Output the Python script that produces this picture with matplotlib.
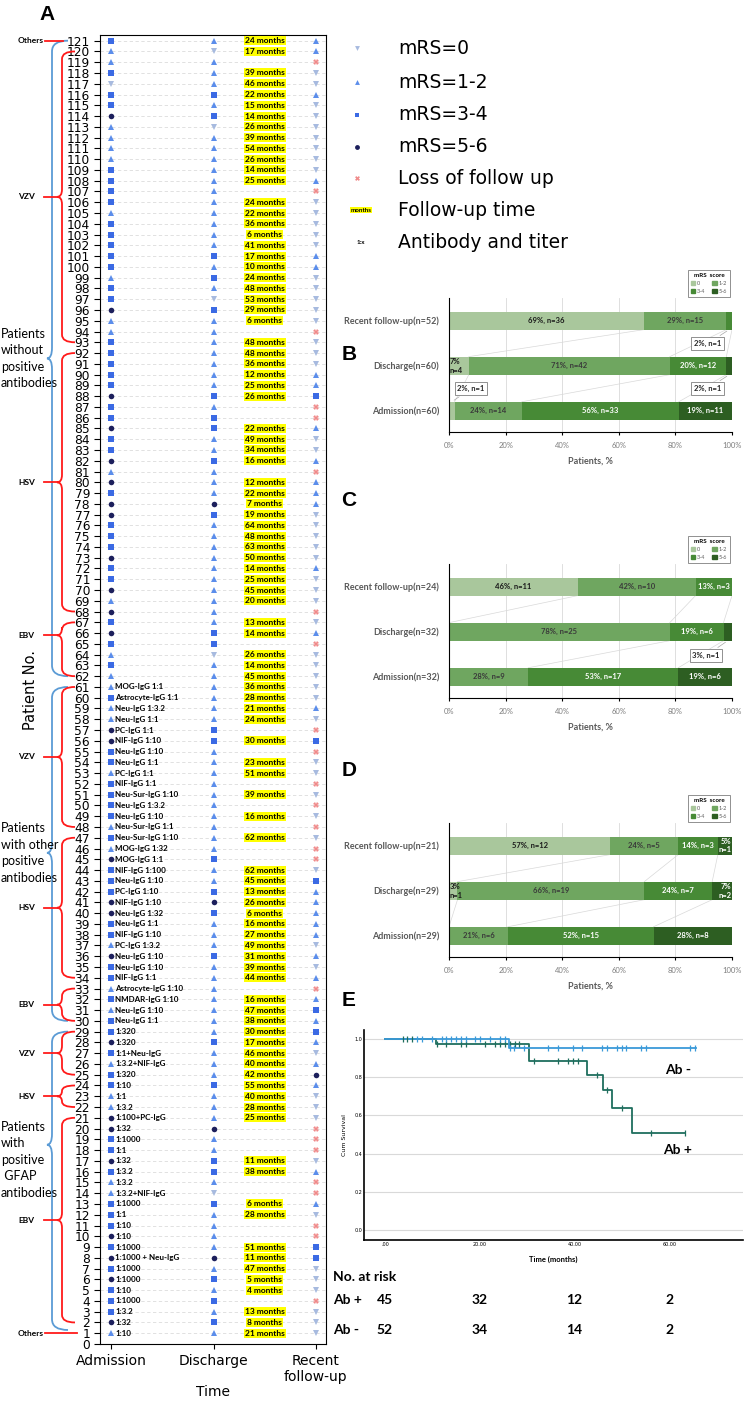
import numpy as np
import matplotlib
matplotlib.use('Agg')
import matplotlib.pyplot as plt
import matplotlib.transforms as mtransforms
from matplotlib.path import Path
from matplotlib.patches import PathPatch, Patch

W, H = 747, 1401

# ---------------- panel A: one value per patient, patient 1 .. 121 ----------------
# mRS code: 0 = mRS 0, 1 = mRS 1-2, 3 = mRS 3-4, 5 = mRS 5-6, 9 = loss of follow up
admission = [1, 5, 3, 3, 3, 5, 3, 5, 3, 5,
             3, 3, 3, 1, 1, 3, 5, 3, 3, 5,
             5, 1, 1, 3, 3, 1, 3, 5, 3, 3,
             1, 3, 1, 3, 3, 5, 1, 3, 3, 5,
             5, 3, 3, 3, 5, 1, 3, 1, 3, 3,
             3, 3, 1, 3, 3, 5, 5, 1, 1, 3,
             1, 1, 3, 1, 3, 5, 3, 5, 1, 5,
             3, 3, 5, 3, 3, 3, 5, 5, 3, 5,
             1, 5, 3, 3, 5, 3, 3, 5, 3, 3,
             3, 3, 3, 1, 1, 5, 3, 3, 1, 3,
             3, 3, 3, 3, 1, 3, 3, 3, 3, 1,
             1, 1, 1, 5, 3, 3, 0, 3, 1, 1,
             3]
discharge = [1, 3, 1, 3, 1, 3, 1, 5, 1, 1,
             1, 1, 3, 0, 1, 3, 3, 1, 1, 5,
             1, 1, 1, 3, 1, 1, 1, 3, 1, 1,
             1, 1, 1, 1, 1, 3, 1, 1, 1, 3,
             5, 3, 1, 1, 3, 1, 1, 1, 1, 1,
             1, 1, 1, 1, 1, 3, 3, 1, 1, 1,
             1, 1, 1, 0, 3, 3, 1, 1, 1, 1,
             1, 1, 1, 1, 1, 1, 3, 5, 1, 1,
             1, 3, 1, 1, 3, 3, 1, 3, 1, 1,
             1, 1, 1, 1, 1, 3, 0, 1, 3, 1,
             3, 1, 1, 1, 1, 1, 1, 1, 1, 1,
             1, 1, 0, 3, 1, 3, 1, 1, 1, 0,
             1]
recent = [0, 0, 0, 9, 0, 0, 0, 3, 3, 9,
          9, 0, 1, 9, 9, 1, 0, 9, 9, 9,
          0, 0, 0, 1, 5, 1, 0, 1, 3, 1,
          3, 1, 9, 1, 0, 1, 0, 1, 1, 1,
          1, 1, 3, 0, 9, 9, 0, 9, 0, 9,
          0, 9, 0, 0, 9, 3, 9, 0, 1, 0,
          0, 0, 0, 0, 9, 1, 0, 9, 0, 0,
          0, 1, 0, 0, 0, 0, 0, 1, 1, 1,
          9, 1, 0, 0, 1, 9, 9, 3, 1, 1,
          0, 0, 0, 9, 0, 0, 0, 0, 0, 1,
          1, 0, 0, 0, 0, 0, 9, 1, 0, 0,
          0, 0, 0, 0, 0, 1, 0, 0, 9, 1,
          1]
followup_months = [21, 8, 13, None, 4, 5, 47, 11, 51, None,
                   None, 28, 6, None, None, 38, 11, None, None, None,
                   25, 28, 40, 55, 42, 40, 46, 17, 30, 38,
                   47, 16, None, 44, 39, 31, 49, 27, 16, 6,
                   26, 13, 45, 62, None, None, 62, None, 16, None,
                   39, None, 51, 23, None, 30, None, 24, 21, 28,
                   36, 45, 14, 26, None, 14, 13, None, 20, 45,
                   25, 14, 50, 63, 48, 64, 19, 7, 22, 12,
                   None, 16, 34, 49, 22, None, None, 26, 25, 12,
                   36, 48, 48, None, 6, 29, 53, 48, 24, 10,
                   17, 41, 6, 36, 22, 24, None, 25, 14, 26,
                   54, 39, 26, 14, 15, 22, 46, 39, None, 17,
                   24]
antibody_titer = ['1:10', '1:32', '1:3.2', '1:1000', '1:10', '1:1000', '1:1000',
                  '1:1000 + Neu-IgG', '1:1000', '1:10', '1:10', '1:1', '1:1000',
                  '1:3.2+NIF-IgG', '1:3.2', '1:3.2', '1:32', '1:1', '1:1000', '1:32',
                  '1:100+PC-IgG', '1:3.2', '1:1', '1:10', '1:320', '1:3.2+NIF-IgG',
                  '1:1+Neu-IgG', '1:320', '1:320', 'Neu-IgG 1:1', 'Neu-IgG 1:10',
                  'NMDAR-IgG 1:10', 'Astrocyte-IgG 1:10', 'NIF-IgG 1:1', 'Neu-IgG 1:10',
                  'Neu-IgG 1:10', 'PC-IgG 1:3.2', 'NIF-IgG 1:10', 'Neu-IgG 1:1',
                  'Neu-IgG 1:32', 'NIF-IgG 1:10', 'PC-IgG 1:10', 'Neu-IgG 1:10',
                  'NIF-IgG 1:100', 'MOG-IgG 1:1', 'MOG-IgG 1:32', 'Neu-Sur-IgG 1:10',
                  'Neu-Sur-IgG 1:1', 'Neu-IgG 1:10', 'Neu-IgG 1:3.2', 'Neu-Sur-IgG 1:10',
                  'NIF-IgG 1:1', 'PC-IgG 1:1', 'Neu-IgG 1:1', 'Neu-IgG 1:10',
                  'NIF-IgG 1:10', 'PC-IgG 1:1', 'Neu-IgG 1:1', 'Neu-IgG 1:3.2',
                  'Astrocyte-IgG 1:1', 'MOG-IgG 1:1']
time_points = ['Admission', 'Discharge', 'Recent\nfollow-up']

# virus brackets: (first row, last row, tip row, name)
virus_groups = [(120, 93, 106.5, 'VZV'), (92, 68, 80, 'HSV'), (67, 62, 65.8, 'EBV'),
                (61, 48, 54.5, 'VZV'), (47, 34, 40.5, 'HSV'), (33, 30, 31.5, 'EBV'),
                (29, 25, 27, 'VZV'), (24, 22, 23, 'HSV'), (21, 2, 11.5, 'EBV')]
others_rows = [121, 1]
# antibody brackets: (first row, last row, tip row, text row, text)
antibody_groups = [(121, 62, 91.5, 91.5, 'Patients\nwithout\npositive\nantibodies'),
                   (61, 30, 45.6, 45.6, 'Patients\nwith other\npositive\nantibodies'),
                   (29, 1.3, 18.5, 17.1, 'Patients\nwith\npositive\n GFAP\nantibodies')]

# ---------------- panels B-D: mRS distribution (0, 1-2, 3-4, 5-6) ----------------
bar_rows_b = ['Admission(n=60)', 'Discharge(n=60)', 'Recent follow-up(n=52)']
pct_b = [[2, 24, 56, 19], [7, 71, 20, 2], [69, 29, 2, 0]]
n_b = [[1, 14, 33, 11], [4, 42, 12, 1], [36, 15, 1, 0]]
bar_rows_c = ['Admission(n=32)', 'Discharge(n=32)', 'Recent follow-up(n=24)']
pct_c = [[0, 28, 53, 19], [0, 78, 19, 3], [46, 42, 13, 0]]
n_c = [[0, 9, 17, 6], [0, 25, 6, 1], [11, 10, 3, 0]]
bar_rows_d = ['Admission(n=29)', 'Discharge(n=29)', 'Recent follow-up(n=21)']
pct_d = [[0, 21, 52, 28], [3, 66, 24, 7], [57, 24, 14, 5]]
n_d = [[0, 6, 15, 8], [1, 19, 7, 2], [12, 5, 3, 1]]
mrs_groups = ['0', '1-2', '3-4', '5-6']

# ---------------- panel E: Kaplan-Meier ----------------
abpos_t = [0, 10.8, 30.4, 42.7, 45.9, 47.9, 52.0, 63.3]
abpos_s = [1.0, 0.976, 0.885, 0.81, 0.731, 0.639, 0.509, 0.509]
abpos_cens = [3.75, 4.7, 5.8, 10.9, 12.9, 16.0, 17.0, 21.1, 23.2, 24.3, 25.3, 26.4,
              27.4, 28.3, 31.4, 36.6, 38.6, 39.6, 40.7, 44.8, 46.9, 49.9, 56.1, 63.3]
abneg_t = [0, 26.2, 65.5]
abneg_s = [1.0, 0.954, 0.954]
abneg_cens = [6.8, 7.8, 9.9, 12.0, 12.9, 13.9, 15.0, 16.1, 17.1, 19.0, 20.1, 22.2,
              24.3, 25.3, 26.3, 27.2, 29.3, 34.4, 36.6, 39.6, 41.6, 45.8, 46.8, 48.9,
              50.0, 50.9, 54.0, 55.0, 64.4, 65.4]
risk_times = [0, 20, 40, 60]
risk_abpos = [45, 32, 12, 2]
risk_abneg = [52, 34, 14, 2]

# ---------------- styles ----------------
mrs_style = {0: ('v', '#A7BADF'), 1: ('^', '#5B8DEB'), 3: ('s', '#3B6AE4'),
             5: ('o', '#1C1F5C'), 9: ('X', '#F08A8A')}
legend_labels = {0: 'mRS=0', 1: 'mRS=1-2', 3: 'mRS=3-4', 5: 'mRS=5-6', 9: 'Loss of follow up'}
seg_colors = ['#A9C79C', '#6FA660', '#478A36', '#2D5E22']
seg_text = ['#1a1a1a', '#3a3a3a', 'white', 'white']
NARROW = 'Lato'
RED, BLUE = '#FF1A1A', '#5B9BD5'


def rect(x0, y0, x1, y1):
    return [x0 / W, 1 - y1 / H, (x1 - x0) / W, (y1 - y0) / H]


fig = plt.figure(figsize=(W / 100, H / 100), dpi=100)

# ================= panel A =================
ax = fig.add_axes(rect(100, 35.3, 326, 1344))
rows = np.arange(1, len(admission) + 1)
for col, codes in enumerate([admission, discharge, recent]):
    codes = np.array(codes)
    for code, (mk, c) in mrs_style.items():
        sel = codes == code
        ax.plot(np.full(sel.sum(), col), rows[sel], ls='none', marker=mk,
                color=c, ms=4, mew=0, zorder=3)

for r, m in zip(rows, followup_months):
    if m is not None:
        ax.text(1.5, r, f'{m} months', ha='center', va='center', fontsize=6,
                family=NARROW, fontweight='bold', zorder=4,
                bbox=dict(boxstyle='square,pad=0.12', fc='#FFFF00', ec='none'))
for r, lab in zip(rows, antibody_titer):
    ax.text(0.04, r, lab, ha='left', va='center', fontsize=5.8,
            family=NARROW, fontweight='bold', zorder=4)

ax.set_xlim(-0.11, 2.1)
ax.set_ylim(0, 121.5)
ax.set_yticks(np.arange(0, len(admission) + 1))
ax.tick_params(axis='y', labelsize=8.8, length=4.3, pad=2.9)
ax.set_xticks(range(3))
ax.set_xticklabels(time_points, fontsize=10)
ax.grid(axis='y', ls=(0, (4, 3)), color='#dcdcdc', lw=0.6)
ax.set_axisbelow(True)
ax.set_xlabel('Time', fontsize=10)
ax.xaxis.set_label_coords(0.5, -0.031)
ax.set_ylabel('Patient No.', fontsize=10.5)
ax.yaxis.set_label_coords(-0.275, 0.5)

# overlay in pixel coordinates for brackets, legend and panel letters
ov = fig.add_axes([0, 0, 1, 1])
ov.set_xlim(0, W)
ov.set_ylim(H, 0)
ov.axis('off')
trans_a = mtransforms.blended_transform_factory(ov.transData, ax.transData)


def brace(top, bottom, tip, x_line, x_hook, x_tip, color, r):
    r = min(r, (top - bottom) / 4)
    verts = [(x_hook, top), (x_line, top), (x_line, top - r),
             (x_line, tip + r), (x_line, tip), (x_tip, tip),
             (x_line, tip), (x_line, tip - r),
             (x_line, bottom + r), (x_line, bottom), (x_hook, bottom)]
    codes = [Path.MOVETO, Path.CURVE3, Path.CURVE3, Path.LINETO, Path.CURVE3,
             Path.CURVE3, Path.CURVE3, Path.CURVE3, Path.LINETO, Path.CURVE3, Path.CURVE3]
    ov.add_patch(PathPatch(Path(verts, codes), fc='none', ec=color, lw=1.3,
                           transform=trans_a, clip_on=False))


for top, bottom, tip, trow, lab in antibody_groups:
    brace(top, bottom, tip, 52, 68, 47, BLUE, 1.0)
    ov.text(1, trow, lab, transform=trans_a, ha='left', va='center', fontsize=9,
            family=NARROW, linespacing=1.45)
for top, bottom, tip, lab in virus_groups:
    brace(top, bottom, tip, 62, 75, 57, RED, 0.7)
    ov.plot([44, 57], [tip, tip], color=RED, lw=1.3, transform=trans_a, clip_on=False)
    ov.text(18, tip, lab, transform=trans_a, ha='left', va='center', fontsize=6,
            family=NARROW, fontweight='bold')
for r, x_end in zip(others_rows, [63, 77]):
    ov.plot([45, x_end], [r, r], color=RED, lw=1.3, transform=trans_a, clip_on=False)
    ov.text(18, r, 'Others', transform=trans_a, ha='left', va='center', fontsize=6,
            family=NARROW, fontweight='bold')

# top-right legend
for (code, (mk, c)), y in zip(mrs_style.items(), [48, 82, 115, 147, 178]):
    ov.plot(357, y, marker=mk, color=c, ms=3.5, mew=0)
    ov.text(398, y, legend_labels[code], fontsize=13.5, va='center')
ov.text(361, 210, 'months', fontsize=4.5, family=NARROW, fontweight='bold',
        ha='center', va='center', bbox=dict(boxstyle='square,pad=0.1', fc='#FFFF00', ec='none'))
ov.text(398, 210, 'Follow-up time', fontsize=13.5, va='center')
ov.text(361, 242, '1:x', fontsize=4.5, family=NARROW, fontweight='bold', ha='center', va='center')
ov.text(398, 242, 'Antibody and titer', fontsize=13.5, va='center')

for letter, (x, y) in zip('ABCDE', [(47, 14), (349, 355), (349, 500), (349, 771), (349, 1000)]):
    ov.text(x, y, letter, fontsize=15, fontweight='bold', ha='center', va='center',
            family='Liberation Sans')


# ================= panels B-D =================
def bar_panel(box, labels, pcts, counts, callouts):
    bx = fig.add_axes(rect(*box))
    ypos = np.arange(len(labels))
    pcts = np.array(pcts, float)
    widths = pcts / pcts.sum(axis=1, keepdims=True) * 100
    lefts = np.cumsum(widths, axis=1) - widths
    edges = np.cumsum(widths, axis=1)
    h = 0.4
    for k in range(4):
        bx.barh(ypos, widths[:, k], left=lefts[:, k], height=h, color=seg_colors[k],
                zorder=2, label=mrs_groups[k])
    for i in range(len(labels) - 1):
        for k in range(3):
            bx.plot([edges[i, k], edges[i + 1, k]], [ypos[i] + h / 2, ypos[i + 1] - h / 2],
                    color='#d9d9d9', lw=0.5, zorder=1)
    call = {(r, k): (tx, ty) for r, k, tx, ty in callouts}
    for i in ypos:
        for k in range(4):
            n = counts[i][k]
            if n == 0:
                continue
            p = int(pcts[i, k])
            cx = lefts[i, k] + widths[i, k] / 2
            kw = dict(fontsize=5.5, family=NARROW, fontweight='bold', zorder=5)
            if (i, k) in call:
                tx, ty = call[(i, k)]
                yy = ypos[i] + h / 2 if ty > ypos[i] else ypos[i] - h / 2
                bx.annotate(f'{p}%, n={n}', xy=(cx, yy), xytext=(tx, ty), ha='center',
                            va='center', color='#262626',
                            arrowprops=dict(arrowstyle='-', color='#a6a6a6', lw=0.5),
                            bbox=dict(boxstyle='square,pad=0.35', fc='white',
                                      ec='#7f7f7f', lw=0.6), **kw)
            elif widths[i, k] < 8:
                if k == 0:
                    x, ha = lefts[i, k] + 0.3, 'left'
                else:
                    x, ha = 99.7, 'right'
                bx.text(x, ypos[i], f'{p}%\nn={n}', ha=ha, va='center', color=seg_text[k],
                        linespacing=1.3, **kw)
            else:
                bx.text(cx, ypos[i], f'{p}%, n={n}', ha='center', va='center',
                        color=seg_text[k], **kw)
    bx.set_xlim(0, 100)
    bx.set_ylim(-0.47, 2.5)
    bx.set_yticks(ypos)
    bx.set_yticklabels(labels, fontsize=6.5, family=NARROW, fontweight='bold', color='#595959')
    bx.set_xticks(range(0, 101, 20))
    bx.set_xticklabels([f'{v}%' for v in range(0, 101, 20)], fontsize=5.5, family=NARROW,
                       color='#7f7f7f')
    bx.tick_params(axis='y', length=0, pad=7)
    bx.tick_params(axis='x', length=2.5, pad=4.5)
    bx.grid(axis='x', color='#d9d9d9', lw=0.6)
    bx.set_axisbelow(True)
    for s in ['top', 'right']:
        bx.spines[s].set_visible(False)
    bx.set_xlabel('Patients, %', fontsize=6.5, family=NARROW, fontweight='bold', color='#595959')
    bx.xaxis.set_label_coords(0.5, -0.183)
    handles = [Patch(color=seg_colors[k]) for k in [0, 2, 1, 3]]
    names = [mrs_groups[k] for k in [0, 2, 1, 3]]
    leg = bx.legend(handles, names, title='mRS  score', ncol=2, loc='lower right',
                    bbox_to_anchor=(1.003, 0.99), fontsize=4, title_fontsize=4.5,
                    handlelength=0.8, handleheight=0.8, handletextpad=0.4,
                    columnspacing=1.2, borderpad=0.5, labelspacing=0.5,
                    fancybox=False, edgecolor='#7f7f7f', framealpha=1,
                    prop=dict(family=NARROW, size=4))
    leg.get_title().set_fontweight('bold')
    leg.get_title().set_family(NARROW)
    leg.get_frame().set_linewidth(0.6)
    for t in leg.get_texts():
        t.set_color('#595959')
    return bx


bar_panel((449, 298, 732, 432), bar_rows_b, pct_b, n_b,
          [(2, 2, 91.4, 1.49), (1, 3, 91.4, 0.49), (0, 0, 7.8, 0.49)])
bar_panel((449, 564, 732, 698), bar_rows_c, pct_c, n_c, [(1, 3, 90.8, 0.47)])
bar_panel((449, 823, 732, 957), bar_rows_d, pct_d, n_d, [])

# ================= panel E =================
ex = fig.add_axes(rect(364, 1030, 743, 1240))


def surv_at(t_steps, s_steps, t):
    idx = np.searchsorted(t_steps, t, side='right') - 1
    return np.array(s_steps)[idx]


green, sky = '#1F6E5E', '#3A9AD9'
ex.step(abpos_t, abpos_s, where='post', color=green, lw=1.3, zorder=3)
ex.step(abneg_t, abneg_s, where='post', color=sky, lw=1.3, zorder=3)
ex.plot(abpos_cens, surv_at(abpos_t, abpos_s, abpos_cens), ls='none', marker='|',
        ms=4, mew=0.9, color=green, zorder=4)
ex.plot(abneg_cens, surv_at(abneg_t, abneg_s, abneg_cens), ls='none', marker='|',
        ms=4, mew=0.9, color=sky, zorder=4)
ex.set_xlim(-4.4, 75.5)
ex.set_ylim(-0.052, 1.047)
ex.set_yticks(np.arange(0, 1.01, 0.2))
ex.set_yticklabels([f'{v:.1f}' for v in np.arange(0, 1.01, 0.2)], fontsize=3.5)
ex.set_xticks(risk_times)
ex.set_xticklabels(['.00', '20.00', '40.00', '60.00'], fontsize=3.5)
ex.tick_params(length=0, pad=1.5)
ex.grid(axis='y', color='#d9d9d9', lw=0.8)
ex.set_axisbelow(True)
for s in ['top', 'right']:
    ex.spines[s].set_visible(False)
for s in ['left', 'bottom']:
    ex.spines[s].set_linewidth(1.2)
ex.set_ylabel('Cum Survival', fontsize=4.5)
ex.yaxis.set_label_coords(-0.045, 0.5)
ex.set_xlabel('Time (months)', fontsize=5.5, family=NARROW, fontweight='bold')
ex.xaxis.set_label_coords(0.5, -0.076)
ex.text(61.8, 0.838, 'Ab -', ha='center', va='center', fontsize=10, family=NARROW,
        fontweight='bold')
ex.text(61.8, 0.419, 'Ab +', ha='center', va='center', fontsize=10, family=NARROW,
        fontweight='bold')

trans_e = mtransforms.blended_transform_factory(ex.transData, ov.transData)
ov.text(333, 1277, 'No. at risk', fontsize=10, family=NARROW, fontweight='bold', va='center')
for y, lab, vals in [(1300, 'Ab +', risk_abpos), (1330, 'Ab -', risk_abneg)]:
    ov.text(333, y, lab, fontsize=10, family=NARROW, fontweight='bold', va='center')
    for t, v in zip(risk_times, vals):
        ov.text(t, y, str(v), transform=trans_e, ha='center', va='center', fontsize=10,
                family=NARROW, fontweight='bold')

fig.savefig('out.png', dpi=100)
